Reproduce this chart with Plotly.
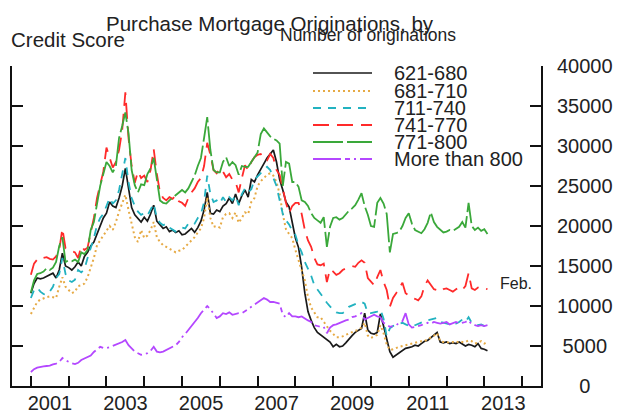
import plotly.graph_objects as go

# ---------------- data (monthly, Jan 2001 - Feb 2013) ----------------
start_year = 2001
labels = ["621-680", "681-710", "711-740", "741-770", "771-800", "More than 800"]

s621_680 = [
    11600, 12800, 13500, 13400, 13500, 13700, 14000, 14100, 13500, 14500, 16600, 15000,
    14800, 14500, 14900, 15500, 15000, 16200, 16700, 17500, 18000, 19000, 20100, 21000,
    21600, 23000, 22500, 22300, 23500, 25000, 27200, 24500, 22300, 21400, 21000, 20500,
    21100, 20600, 21500, 22600, 20600, 20100, 19700, 19900, 19300, 19500, 19200, 19400,
    18900, 19000, 19400, 19700, 19200, 19800, 20600, 22000, 24200, 21600, 21500, 22000,
    21800, 22500, 22800, 23500, 22800, 24000, 22800, 23800, 24500, 23600, 25800, 25500,
    26400, 27200, 27800, 28500, 29000, 29500, 28000, 25800, 24500, 23000, 22400, 20500,
    18500, 17300, 14800, 11600, 9300, 8200, 7300, 6700, 6400, 6100, 5800, 5500,
    4900, 5200, 4900, 5000, 5400, 5900, 6300, 6700, 7000, 7200, 9100, 7000,
    6600, 6500, 6700, 9000, 7500, 5800, 4300, 3600, 3900, 4200, 4500, 4700,
    4800, 4900, 5100, 5000, 5300, 5600, 5700, 6000, 6400, 6700, 5500, 5400,
    5500, 5300, 5400, 5300, 5500, 5200, 5000, 5200, 5100, 4900, 5300, 4700,
    4600, 4400,
]
s681_710 = [
    9000, 9800, 10500, 10800, 11000, 11100, 11200, 11100, 11000, 12400, 13600, 12400,
    12000, 11600, 11800, 12500, 12600, 12800, 13600, 14800, 16000, 17600, 18200, 18800,
    19500, 20000, 19500, 20500, 21800, 22800, 23900, 22000, 20100, 18600, 18000, 19500,
    18500, 18800, 19500, 20500, 18600, 18000, 17600, 17400, 17200, 17000, 16700, 16900,
    17000, 17400, 17800, 18200, 18600, 19200, 19700, 21000, 23600, 21000, 19900, 20000,
    19800, 21100, 21500, 21600, 21000, 21700, 20400, 21000, 21700, 21500, 23000, 23500,
    25000, 25600, 26000, 26400, 26600, 26300, 25500, 24000, 21500, 19600, 19000, 18500,
    17000, 15700, 14500, 13200, 11100, 9800, 9200, 8600, 8600, 8000, 7400, 6900,
    6500, 6100, 6100, 6200, 6400, 6600, 6800, 6900, 7000, 7300, 7900, 6300,
    6000, 6200, 6400, 7600, 6600, 5200, 4500, 4600, 4800, 4900, 5000, 5100,
    5200, 5300, 5400, 5500, 5600, 5600, 5800, 6000, 6300, 6600, 5600, 5500,
    5500, 5400, 5500, 5400, 5600, 5500, 5500, 5700, 5600, 5300, 5400, 5600,
    5300, 5500,
]
s711_740 = [
    11000, 12000, 12300, 11800, 11500, 11400, 11800, 12400, 13500, 14000, 16000, 14000,
    13200, 13000, 13300, 14500, 14200, 14600, 16000, 17200, 18500, 20100, 21000, 21500,
    22500, 23500, 22800, 23200, 24500, 26500, 28500, 25500, 23500, 22500, 21800, 21400,
    21600, 21300, 22000, 22800, 21000, 20400, 20100, 20300, 19800, 19600, 19300, 19500,
    19800, 19700, 20300, 20500, 20300, 21000, 21500, 23000, 26300, 24000, 23000, 23200,
    22800, 23600, 23000, 23600, 23200, 23800, 22600, 24000, 24700, 24200, 24600, 25800,
    26200, 26600, 27000, 27400, 27000, 26100, 25000, 23200, 21500, 20700, 20200, 19400,
    18900, 17600, 16700, 15500, 14600, 13800, 12600, 12100, 11600, 11000, 10400, 9900,
    9500, 9200, 9100, 9100, 9400, 9900, 10100, 10300, 10400, 10500, 10300, 9100,
    9100, 9200, 9300, 9600, 8400, 6200, 7200, 7500, 7600, 7800, 7900, 7700,
    7500, 7400, 7600, 7800, 8000, 8100, 8200, 8300, 8400, 8500, 8000, 7900,
    7800, 7700, 7900, 7800, 8000, 8300, 8000, 8600, 7900, 7700, 7600, 7700,
    7500, 7300,
]
s741_770 = [
    13900, 15300, 15800, 16100, 16000, 16100, 15900, 15800, 16200, 17000, 19700, 17200,
    17000, 16800, 16700, 16000, 17500, 17000, 17300, 19200, 21000, 23500, 25100, 26800,
    29800, 28600, 27300, 28000, 29500, 32000, 36700, 31000, 27500, 25400, 26800, 26000,
    26300, 25500, 27000, 29600, 26500, 24200, 23500, 23200, 23600, 23400, 23800, 23100,
    22900, 22500, 23500, 24200, 24700, 25500, 26000, 27500, 30400, 28900, 27000, 26600,
    27200, 26800, 26100, 26500, 25800, 25500, 24200, 26000, 27600, 27000, 28000, 28600,
    28900, 29000, 28400, 28200, 29000, 28500, 27000, 26400, 24500, 22900, 21600, 22500,
    22900, 22900, 21500, 19500, 18200, 17400, 16000, 15200, 15100, 15300, 13000, 14600,
    14300, 13900, 14100, 14500, 14700, 14900, 15000, 14900, 15400, 15700, 15400, 13500,
    13000, 12600, 13600, 14500, 13000, 12000, 9900, 11000, 11600, 12200, 12900, 11600,
    11300, 11000, 10900, 10700, 11200, 12500, 13200, 12600, 12100, 12000, 11800, 12100,
    12200, 12000, 11800, 12100, 12300, 12000, 12500, 14100, 12200, 12000, 12300, 12100,
    12200, 12100,
]
s771_800 = [
    11700, 13200, 14000, 14100, 14300, 14700, 14500, 14800, 15500, 17500, 18600, 15500,
    15700, 15600, 15800, 15500, 16700, 16500, 17000, 19500, 20500, 23000, 25000, 26500,
    28000, 27500, 26700, 27500, 31000, 32500, 34200, 31600, 27000, 25100, 24200, 25200,
    25100, 26500, 27200, 28500, 26000, 23200, 22900, 22800, 23200, 23500, 23900, 24200,
    24500, 24200, 24700, 25500, 26300, 27500, 28500, 31000, 33600, 29500, 27000, 26700,
    26700, 28000, 28600, 27500, 28000, 27600, 26400, 27500, 27400, 27400, 28000, 28500,
    29200, 31500, 32200, 31700, 31200, 30900, 30700, 30300, 25000, 28000, 27800, 25500,
    25500, 24900, 23200, 23000, 22500, 21600, 21000, 20700, 20400, 21100, 17400, 19900,
    21000, 21100, 20800, 21000, 21500, 21900, 22200, 22600, 23300, 24100, 22500, 21400,
    20000, 19900, 22900, 23500, 22800, 21500, 16700, 19000, 19100, 19300, 20000, 21000,
    21600, 20300, 19500, 19300, 19100, 19600, 20400, 21700, 20500, 19900, 19500, 19200,
    19300, 19500, 19400, 19600, 19900, 20500, 19800, 22900, 20000, 19500, 19800, 19400,
    19600, 19000,
]
s800_plus = [
    1750, 2100, 2300, 2400, 2450, 2500, 2550, 2700, 2800, 3000, 3500, 3200,
    3000, 2850, 2750, 2900, 3250, 3400, 3600, 3800, 4250, 4600, 4900, 4750,
    4750, 4850, 5000, 5100, 5300, 5500, 5750, 5100, 4700, 4300, 4100, 3900,
    3950, 4100, 4400, 4900, 4300, 4200, 4300, 4500, 4750, 4850, 5100, 5500,
    6100, 6500, 7000, 7500, 7900, 8500, 9100, 9600, 10000, 9600, 9000, 8500,
    8700, 9100, 9000, 9200, 8900, 9000, 9100, 9100, 9300, 9600, 9900, 10200,
    10400, 10700, 11000, 10800, 10500, 10500, 10400, 10300, 8900, 8600, 9100, 8700,
    8700, 8600, 8700, 8400, 8200, 8000, 7600, 7500, 7400, 7400, 6600, 7300,
    7600, 7700, 7900, 8000, 8200, 8300, 8600, 8700, 8900, 9100, 8300, 8500,
    8600, 8900, 8700, 8600, 7900, 7700, 7400, 7500, 7600, 7900, 8100, 9100,
    7700, 7300, 7400, 7500, 7600, 7800, 7900, 7800, 8000, 7900, 7800, 7900,
    8000, 7700, 7900, 8000, 7800, 7900, 8000, 8200, 7700, 7600, 7500, 7600,
    7500, 7600,
]
series = [s621_680, s681_710, s711_740, s741_770, s771_800, s800_plus]

year_ticks = list(range(2001, 2015))
year_labels = [str(y) if y % 2 == 1 else "" for y in year_ticks]
value_ticks = list(range(0, 40001, 5000))
value_labels = ["0", "5000", "10000", "15000", "20000", "25000", "30000", "35000", "40000"]

# ---------------- styles ----------------
colors = ["#1a1a1a", "#e6aa45", "#22b2c0", "#ff2a2a", "#3aa83a", "#b447ff"]
dashes = ["solid", "2px,3px", "8px,7px", "16px,8px", "30px,4px", "28px,4px,5px,4px,2px,4px"]
widths = [1.7, 2.0, 1.8, 1.8, 1.8, 1.8]
FONT = "Liberation Sans, Arial, Helvetica, sans-serif"
TXT = "#222222"

# plot-area pixel box (used only for placing text / legend samples)
L, R, T, B = 12, 541, 66, 386
W, H = 617, 413
def px(x):
    return (x - L) / (R - L)
def py(y):
    return (B - y) / (B - T)

def pad(s):
    # centre the right-hand tick labels (one nbsp = half a digit)
    return "\u00a0" * (5 - len(s)) + s

x_vals = [start_year + i / 12 for i in range(len(s621_680))]

fig = go.Figure()
for name, vals, c, d, w in zip(labels, series, colors, dashes, widths):
    fig.add_trace(go.Scatter(x=x_vals, y=vals, mode="lines", name=name,
                             line=dict(color=c, dash=d, width=w), showlegend=False))

# manual legend
rows = [73, 91, 108, 125, 142, 159]
shapes = []
annotations = []
for name, c, d, w, ry in zip(labels, colors, dashes, widths, rows):
    shapes.append(dict(type="line", xref="paper", yref="paper",
                       x0=px(313), x1=px(372), y0=py(ry), y1=py(ry),
                       line=dict(color=c, dash=d, width=w)))
    annotations.append(dict(text=name, xref="paper", yref="paper", x=px(392), y=py(ry),
                            xanchor="left", yanchor="middle", showarrow=False,
                            font=dict(family=FONT, size=20, color=TXT)))

annotations += [
    dict(text="Purchase Mortgage Originations, by", xref="paper", yref="paper",
         x=px(270), y=py(23), xanchor="center", yanchor="middle", showarrow=False,
         font=dict(family=FONT, size=20.5, color=TXT)),
    dict(text="Credit Score", xref="paper", yref="paper",
         x=px(9), y=py(40), xanchor="left", yanchor="middle", showarrow=False,
         font=dict(family=FONT, size=20.5, color=TXT)),
    dict(text="Number of originations", xref="paper", yref="paper",
         x=px(458), y=py(35), xanchor="right", yanchor="middle", showarrow=False,
         font=dict(family=FONT, size=17.5, color=TXT)),
    dict(text="Feb.", xref="paper", yref="paper",
         x=px(516), y=py(283), xanchor="center", yanchor="middle", showarrow=False,
         font=dict(family=FONT, size=16, color=TXT)),
]

fig.update_layout(
    width=W, height=H,
    margin=dict(l=L, r=W - R, t=T, b=H - B, pad=0, autoexpand=False),
    paper_bgcolor="white", plot_bgcolor="white",
    font=dict(family=FONT, size=20, color=TXT),
    shapes=shapes, annotations=annotations,
    showlegend=False,
)
fig.update_xaxes(
    range=[2000.5, 2014.5], tickmode="array", tickvals=year_ticks, ticktext=year_labels,
    ticks="inside", ticklen=10, tickwidth=2, tickcolor="#111",
    showline=True, linewidth=2, linecolor="#111", mirror=False,
    showgrid=False, zeroline=False, ticklabelshift=19, ticklabelstandoff=-2,
    automargin=False,
    tickfont=dict(family=FONT, size=20, color=TXT),
)
fig.update_yaxes(
    range=[0, 40000], side="right", tickmode="array", tickvals=value_ticks,
    ticktext=[pad(s) for s in value_labels],
    ticks="inside", ticklen=11, tickwidth=2, tickcolor="#111",
    showline=True, linewidth=2, linecolor="#111", mirror="ticks",
    showgrid=False, zeroline=False, ticklabelstandoff=10, automargin=False,
    tickfont=dict(family=FONT, size=20, color=TXT),
)

fig.write_html("out.html", config={"displayModeBar": False},
               post_script="document.body.style.margin='0';document.body.style.overflow='hidden';")
